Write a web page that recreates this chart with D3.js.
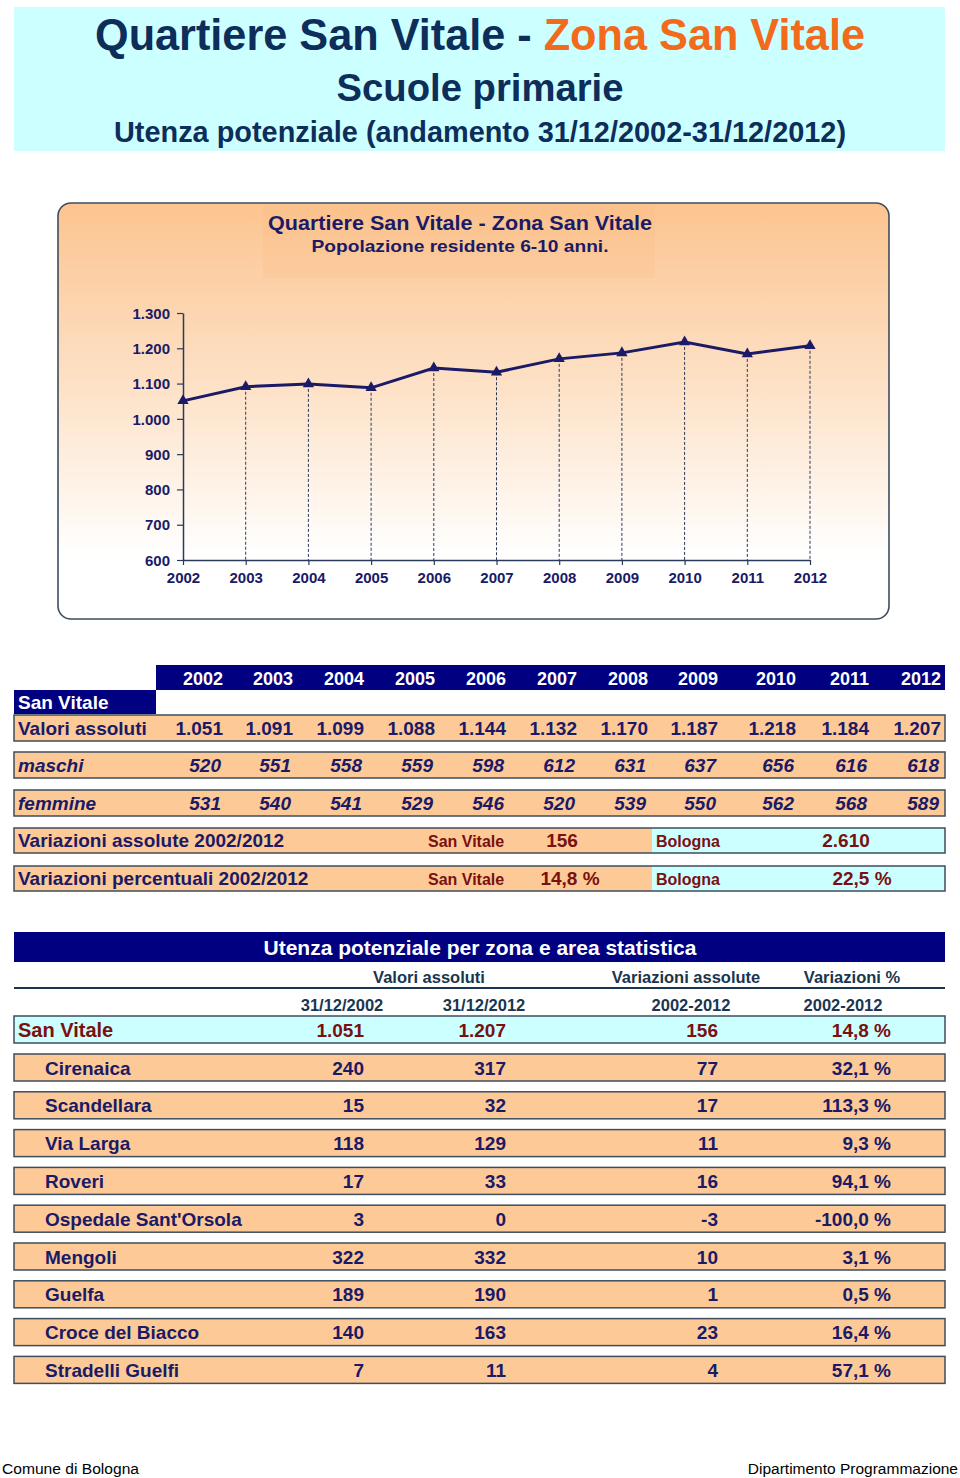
<!DOCTYPE html>
<html><head><meta charset="utf-8">
<script src="https://cdn.jsdelivr.net/npm/d3@7"></script>
<style>body{margin:0;background:#fff}svg{display:block;font-family:"Liberation Sans",Arial,sans-serif}</style>
</head><body>
<script>
const years = [2002,2003,2004,2005,2006,2007,2008,2009,2010,2011,2012];
const totals = [1051,1091,1099,1088,1144,1132,1170,1187,1218,1184,1207];
const maschi = [520,551,558,559,598,612,631,637,656,616,618];
const femmine = [531,540,541,529,546,520,539,550,562,568,589];
const yTicks = [600,700,800,900,1000,1100,1200,1300];
const zones = ["Cirenaica","Scandellara","Via Larga","Roveri","Ospedale Sant'Orsola","Mengoli","Guelfa","Croce del Biacco","Stradelli Guelfi"];
const val2002 = [240,15,118,17,3,322,189,140,7];
const val2012 = [317,32,129,33,0,332,190,163,11];
const varAbs = [77,17,11,16,-3,10,1,23,4];
const varPct = [32.1,113.3,9.3,94.1,-100.0,3.1,0.5,16.4,57.1];
const zoneTotal = {name:"San Vitale", v2002:1051, v2012:1207, abs:156, pct:14.8};
const bologna = {abs:2610, pct:22.5};

const loc = d3.formatLocale({decimal:",", thousands:".", grouping:[3], currency:["","€"], minus:"-"});
const fInt = loc.format(",d");
const fPct = v => loc.format(",.1f")(v) + " %";

const W=960,H=1478;
const NAVY="#1a1a66", DNAVY="#000080", PEACH="#fdc997", CYAN="#ccffff", RED="#7a1010", BORDER="#3d4d5d", TNAVY="#0d2d5a";
const svg = d3.select("body").append("svg").attr("width",W).attr("height",H);

// ---------- header
svg.append("rect").attr("x",14).attr("y",7).attr("width",931).attr("height",144).attr("fill",CYAN);
const t1 = svg.append("text").attr("x",480).attr("y",50).attr("text-anchor","middle")
  .attr("font-size",45).attr("font-weight","bold").attr("textLength",770).attr("lengthAdjust","spacingAndGlyphs");
t1.append("tspan").attr("fill",TNAVY).text("Quartiere San Vitale - ");
t1.append("tspan").attr("fill","#f26a1b").text("Zona San Vitale");
svg.append("text").attr("x",480).attr("y",101).attr("text-anchor","middle").attr("fill",TNAVY)
  .attr("font-size",39).attr("font-weight","bold").attr("textLength",287).attr("lengthAdjust","spacingAndGlyphs").text("Scuole primarie");
svg.append("text").attr("x",480).attr("y",142).attr("text-anchor","middle").attr("fill",TNAVY)
  .attr("font-size",30).attr("font-weight","bold").attr("textLength",732).attr("lengthAdjust","spacingAndGlyphs").text("Utenza potenziale (andamento 31/12/2002-31/12/2012)");

// ---------- chart box
const defs = svg.append("defs");
const g1 = defs.append("linearGradient").attr("id","bg").attr("x1",0).attr("y1",0).attr("x2",0).attr("y2",1);
g1.append("stop").attr("offset","0").attr("stop-color","#fcc490");
g1.append("stop").attr("offset","0.45").attr("stop-color","#fde2c8");
g1.append("stop").attr("offset","0.85").attr("stop-color","#ffffff");
g1.append("stop").attr("offset","1").attr("stop-color","#ffffff");
svg.append("rect").attr("x",58).attr("y",203).attr("width",831).attr("height",416).attr("rx",13)
  .attr("fill","url(#bg)").attr("stroke",BORDER).attr("stroke-width",1.6);
svg.append("rect").attr("x",263).attr("y",205).attr("width",392).attr("height",73).attr("fill","#f9b97c").attr("opacity",0.18);
svg.append("text").attr("x",460).attr("y",230).attr("text-anchor","middle").attr("fill",NAVY)
  .attr("font-size",21).attr("font-weight","bold").attr("textLength",384).attr("lengthAdjust","spacingAndGlyphs").text("Quartiere San Vitale - Zona San Vitale");
svg.append("text").attr("x",460).attr("y",252).attr("text-anchor","middle").attr("fill",NAVY)
  .attr("font-size",17).attr("font-weight","bold").attr("textLength",297).attr("lengthAdjust","spacingAndGlyphs").text("Popolazione residente 6-10 anni.");

const x = d3.scaleLinear().domain([2002,2012]).range([183,810]);
const y = d3.scaleLinear().domain([600,1300]).range([560,313]);

// drop lines
svg.append("g").selectAll("line").data(years.map((yr,i)=>({yr,v:totals[i]})).slice(1)).join("line")
  .attr("x1",d=>x(d.yr)).attr("x2",d=>x(d.yr)).attr("y1",d=>y(d.v)).attr("y2",y(600))
  .attr("stroke","#2a3a5a").attr("stroke-width",1).attr("stroke-dasharray","3,2");

const yAx = svg.append("g").attr("transform","translate(183,0)")
  .call(d3.axisLeft(y).tickValues(yTicks).tickSize(6).tickSizeOuter(0).tickPadding(7).tickFormat(fInt));
const xAx = svg.append("g").attr("transform",`translate(0,${y(600)})`)
  .call(d3.axisBottom(x).tickValues(years).tickSize(5).tickSizeOuter(0).tickPadding(7).tickFormat(d3.format("d")));
[yAx,xAx].forEach(a=>{
  a.select(".domain").attr("stroke","#2a3a5a").attr("stroke-width",1.5);
  a.selectAll(".tick line").attr("stroke","#2a3a5a").attr("stroke-width",1.2);
  a.selectAll("text").attr("fill",NAVY).attr("font-size",15).attr("font-weight","bold").attr("font-family","Liberation Sans, Arial, sans-serif");
});
yAx.selectAll("text").attr("dy","0.35em");

svg.append("path").datum(totals).attr("fill","none").attr("stroke",NAVY).attr("stroke-width",3)
  .attr("d",d3.line().x((d,i)=>x(years[i])).y(d=>y(d)));
svg.append("g").selectAll("path").data(totals).join("path")
  .attr("transform",(d,i)=>`translate(${x(years[i])},${y(d)})`)
  .attr("d",d3.symbol(d3.symbolTriangle,55)).attr("fill",NAVY);

// ---------- table 1
const colRight = [223,293,364,435,506,577,648,718,796,869,941];
svg.append("rect").attr("x",156).attr("y",665).attr("width",789).attr("height",25).attr("fill",DNAVY);
svg.append("g").selectAll("text").data(years).join("text")
  .attr("x",(d,i)=>colRight[i]).attr("y",685).attr("text-anchor","end").attr("fill","#fff")
  .attr("font-size",18).attr("font-weight","bold").text(d=>d);
svg.append("rect").attr("x",14).attr("y",690).attr("width",142).attr("height",24).attr("fill",DNAVY);
svg.append("text").attr("x",18).attr("y",709).attr("fill","#fff").attr("font-size",19).attr("font-weight","bold").text("San Vitale");

function rowRect(yTop,h,fill){
  svg.append("rect").attr("x",14).attr("y",yTop).attr("width",931).attr("height",h).attr("fill",fill)
    .attr("stroke",BORDER).attr("stroke-width",1.5);
}
const rows1 = [
  {label:"Valori assoluti", data:totals, top:715, italic:false},
  {label:"maschi", data:maschi, top:752, italic:true},
  {label:"femmine", data:femmine, top:790, italic:true}
];
rows1.forEach(r=>{
  rowRect(r.top,26,PEACH);
  svg.append("text").attr("x",18).attr("y",r.top+20).attr("fill",NAVY).attr("font-size",19).attr("font-weight","bold")
    .attr("font-style",r.italic?"italic":"normal").text(r.label);
  svg.append("g").selectAll("text").data(r.data).join("text")
    .attr("x",(d,i)=>colRight[i]-(r.italic?2:0)).attr("y",r.top+20).attr("text-anchor","end").attr("fill",NAVY)
    .attr("font-size",19).attr("font-weight","bold").attr("font-style",r.italic?"italic":"normal").text(d=>fInt(d));
});
const rowsVar = [
  {label:"Variazioni assolute 2002/2012", top:828, sv:fInt(zoneTotal.abs), bo:fInt(bologna.abs), svx:562, box:846},
  {label:"Variazioni percentuali 2002/2012", top:866, sv:fPct(zoneTotal.pct), bo:fPct(bologna.pct), svx:570, box:862}
];
rowsVar.forEach(r=>{
  svg.append("rect").attr("x",14).attr("y",r.top).attr("width",638).attr("height",25).attr("fill",PEACH);
  svg.append("rect").attr("x",652).attr("y",r.top).attr("width",293).attr("height",25).attr("fill",CYAN);
  svg.append("rect").attr("x",14).attr("y",r.top).attr("width",931).attr("height",25).attr("fill","none").attr("stroke",BORDER).attr("stroke-width",1.5);
  svg.append("text").attr("x",18).attr("y",r.top+19).attr("fill",NAVY).attr("font-size",19).attr("font-weight","bold").text(r.label);
  svg.append("text").attr("x",428).attr("y",r.top+19).attr("fill",RED).attr("font-size",16).attr("font-weight","bold").text("San Vitale");
  svg.append("text").attr("x",r.svx).attr("y",r.top+19).attr("text-anchor","middle").attr("fill",RED).attr("font-size",19).attr("font-weight","bold").text(r.sv);
  svg.append("text").attr("x",656).attr("y",r.top+19).attr("fill",RED).attr("font-size",16).attr("font-weight","bold").text("Bologna");
  svg.append("text").attr("x",r.box).attr("y",r.top+19).attr("text-anchor","middle").attr("fill",RED).attr("font-size",19).attr("font-weight","bold").text(r.bo);
});

// ---------- table 2
svg.append("rect").attr("x",14).attr("y",932).attr("width",931).attr("height",30).attr("fill",DNAVY);
svg.append("text").attr("x",480).attr("y",955).attr("text-anchor","middle").attr("fill","#fff").attr("font-size",21).attr("font-weight","bold")
  .text("Utenza potenziale per zona e area statistica");
const SUB="#1a3550";
[["Valori assoluti",429],["Variazioni assolute",686],["Variazioni %",852]].forEach(([t,cx])=>{
  svg.append("text").attr("x",cx).attr("y",983).attr("text-anchor","middle").attr("fill",SUB).attr("font-size",16.5).attr("font-weight","bold").text(t);
});
svg.append("line").attr("x1",14).attr("x2",945).attr("y1",988).attr("y2",988).attr("stroke","#1a3550").attr("stroke-width",2.2);
[["31/12/2002",342],["31/12/2012",484],["2002-2012",691],["2002-2012",843]].forEach(([t,cx])=>{
  svg.append("text").attr("x",cx).attr("y",1011).attr("text-anchor","middle").attr("fill",SUB).attr("font-size",16.5).attr("font-weight","bold").text(t);
});
const c2 = [364,506,718,891];
rowRect(1016,27,CYAN);
svg.append("text").attr("x",18).attr("y",1037).attr("fill",RED).attr("font-size",20).attr("font-weight","bold").text(zoneTotal.name);
[fInt(zoneTotal.v2002),fInt(zoneTotal.v2012),fInt(zoneTotal.abs),fPct(zoneTotal.pct)].forEach((t,j)=>{
  svg.append("text").attr("x",c2[j]).attr("y",1037).attr("text-anchor","end").attr("fill",RED).attr("font-size",19).attr("font-weight","bold").text(t);
});
zones.forEach((z,i)=>{
  const top = 1054 + i*37.8;
  rowRect(top,27,PEACH);
  svg.append("text").attr("x",45).attr("y",top+20.5).attr("fill",NAVY).attr("font-size",19).attr("font-weight","bold").text(z);
  [fInt(val2002[i]),fInt(val2012[i]),fInt(varAbs[i]),fPct(varPct[i])].forEach((t,j)=>{
    svg.append("text").attr("x",c2[j]).attr("y",top+20.5).attr("text-anchor","end").attr("fill",NAVY).attr("font-size",19).attr("font-weight","bold").text(t);
  });
});

// ---------- footer
svg.append("text").attr("x",2).attr("y",1474).attr("fill","#000").attr("font-size",15.5).attr("textLength",137).attr("lengthAdjust","spacingAndGlyphs").text("Comune di Bologna");
svg.append("text").attr("x",958).attr("y",1474).attr("text-anchor","end").attr("fill","#000").attr("font-size",15.5).text("Dipartimento Programmazione");
</script>
</body></html>
